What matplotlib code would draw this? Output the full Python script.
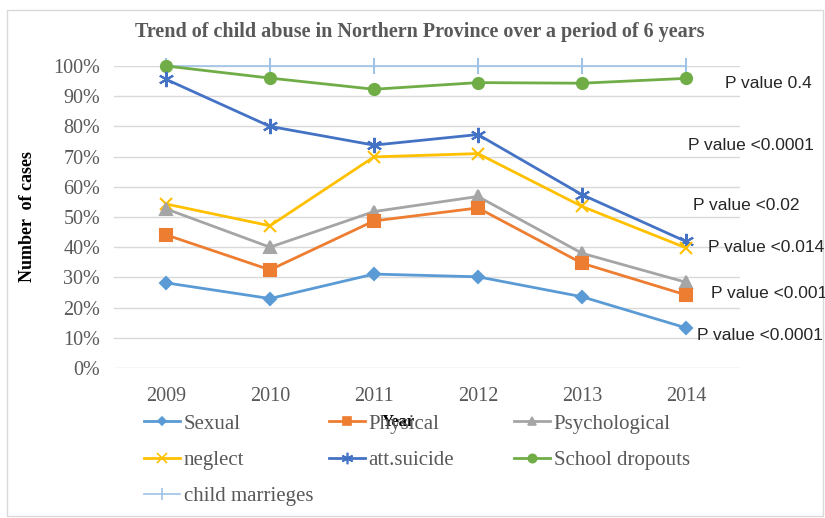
import numpy as np
import matplotlib
matplotlib.use('Agg')
import matplotlib.pyplot as plt
from matplotlib.lines import Line2D
from matplotlib.patches import Rectangle

years = ['2009', '2010', '2011', '2012', '2013', '2014']

sexual = [28.2, 23.0, 31.1, 30.2, 23.6, 13.3]
physical = [44.1, 32.5, 48.7, 53.0, 34.7, 24.2]
psychological = [52.7, 40.0, 51.8, 56.8, 38.0, 28.4]
neglect = [54.3, 47.1, 69.9, 71.0, 53.5, 39.8]
att_suicide = [95.6, 80.0, 73.8, 77.3, 57.4, 41.9]
school_dropouts = [100.0, 96.0, 92.3, 94.5, 94.3, 95.9]
child_marriages = [100.0, 100.0, 100.0, 100.0, 100.0, 100.0]

p_labels = ['P value 0.4', 'P value <0.0001', 'P value <0.02',
            'P value <0.014', 'P value <0.001', 'P value <0.0001']

serif = 'Liberation Serif'
grey = '#595959'

fig = plt.figure(figsize=(8.25, 5.18), dpi=100)
fig.patches.append(Rectangle((7/825, 2/518), 816/825, 506/518, transform=fig.transFigure,
                             fill=False, edgecolor='#D9D9D9', linewidth=1.0))
ax = fig.add_axes([114/825, 1-368/518, 626/825, 302/518])

x = np.arange(len(years))
series = [
    ('Sexual', sexual, '#5B9BD5', 'D', 6),
    ('Physical', physical, '#ED7D31', 's', 8),
    ('Psychological', psychological, '#A5A5A5', '^', 8),
    ('neglect', neglect, '#FFC000', 'x', 9),
    ('att.suicide', att_suicide, '#4472C4', (6, 2, 0), 11),
    ('School dropouts', school_dropouts, '#70AD47', 'o', 8),
    ('child marrieges', child_marriages, '#9DC3E6', '|', 12),
]
handles = {}
for name, vals, col, mk, ms in reversed(series):
    lw = 1.2 if name == 'child marrieges' else 2.0
    ax.plot(x, np.array(vals)/100, color=col, marker=mk, markersize=ms, linewidth=lw,
            markeredgewidth=1.5, clip_on=False)
    # smaller proxy for the legend
    handles[name] = Line2D([], [], color=col, marker=mk, markersize=ms*0.75, linewidth=lw,
                           markeredgewidth=1.2)

ax.set_xlim(-0.5, 5.52)
ax.set_ylim(0, 1)
ax.set_yticks(np.arange(0, 1.01, 0.1))
ax.set_yticklabels([f'{int(round(v*100))}%' for v in np.arange(0, 1.01, 0.1)],
                   fontsize=14.5, fontfamily=serif, color=grey)
ax.set_xticks(x)
ax.set_xticklabels(years, fontsize=14.5, fontfamily=serif, color=grey)
ax.tick_params(length=0, pad=10)
ax.tick_params(axis='x', pad=14)
ax.grid(axis='y', color='#D9D9D9', linewidth=1)
ax.set_axisbelow(True)
for s in ax.spines.values():
    s.set_visible(False)

fig.text(420/825, 1-32/518, 'Trend of child abuse in Northern Province over a period of 6 years',
         ha='center', va='center', fontsize=14.5, fontweight='bold', fontfamily=serif, color=grey)
fig.text(27/825, 1-217/518, 'Number  of cases', rotation=90, ha='center', va='center',
         fontsize=13, fontweight='bold', fontfamily=serif, color='black')
fig.text(398/825, 1-422/518, 'Year', ha='center', va='center',
         fontsize=12, fontweight='bold', fontfamily=serif, color='black')

# p value notes to the right of the lines (pixel positions of left edge / centre)
p_pos = [(725, 83), (688, 146), (693, 206), (708, 248), (711, 293), (697, 336)]
for lab, (px, py) in zip(p_labels, p_pos):
    fig.text(px/825, 1-py/518, lab, ha='left', va='center', fontsize=12.5,
             fontfamily='Liberation Sans', color='#262626')

# legend: three columns placed separately
cols = [['Sexual', 'neglect', 'child marrieges'],
        ['Physical', 'att.suicide'],
        ['Psychological', 'School dropouts']]
col_x = [144, 329, 514]
for names, cx in zip(cols, col_x):
    fig.legend([handles[n] for n in names], names, loc='upper left',
               bbox_to_anchor=(cx/825, 1-414/518), frameon=False,
               prop={'family': serif, 'size': 15}, labelcolor=grey,
               handlelength=1.75, handletextpad=0.15, labelspacing=0.8,
               borderpad=0, borderaxespad=0)

fig.savefig('out.png', dpi=100)
